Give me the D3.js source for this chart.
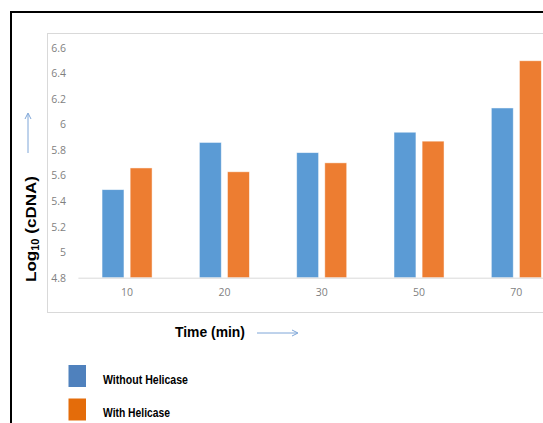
<!DOCTYPE html>
<html>
<head>
<meta charset="utf-8">
<script src="https://cdn.jsdelivr.net/npm/d3@7"></script>
<style>
  html, body { margin: 0; padding: 0; background: #fff; }
  svg { display: block; }
</style>
</head>
<body>
<svg id="chart" width="543" height="423"></svg>
<script>
const categories = ["10", "20", "30", "50", "70"];
const seriesNames = ["Without Helicase", "With Helicase"];
const withoutHelicase = [5.49, 5.86, 5.78, 5.94, 6.13];
const withHelicase = [5.66, 5.63, 5.70, 5.87, 6.50];
const yTickValues = [4.8, 5.0, 5.2, 5.4, 5.6, 5.8, 6.0, 6.2, 6.4, 6.6];
const yTickLabels = ["4.8", "5", "5.2", "5.4", "5.6", "5.8", "6", "6.2", "6.4", "6.6"];

const barColors = ["#5b9bd5", "#ed7d31"];
const legendColors = ["#4f81bd", "#e46c0a"];

const svg = d3.select("#chart");

// outer black frame (extends beyond the right edge)
svg.append("rect").attr("x", 11).attr("y", 12).attr("width", 600).attr("height", 500)
  .attr("fill", "none").attr("stroke", "#000").attr("stroke-width", 2);

// inner chart-area frame
svg.append("rect").attr("x", 47.5).attr("y", 33.5).attr("width", 600).attr("height", 279)
  .attr("fill", "none").attr("stroke", "#d9d9d9").attr("stroke-width", 1);

const x0 = d3.scaleBand().domain(categories).range([78.4, 565])
  .paddingInner(0.486).paddingOuter(0.243);
const x1 = d3.scaleBand().domain(seriesNames).range([0, x0.bandwidth()])
  .paddingInner(0.22).paddingOuter(0);
const y = d3.scaleLinear().domain([4.8, 6.6]).range([277.7, 48]);

const data = categories.map((c, i) => ({ cat: c, vals: [withoutHelicase[i], withHelicase[i]] }));

const g = svg.append("g");
const groups = g.selectAll("g.grp").data(data).join("g")
  .attr("class", "grp")
  .attr("transform", d => `translate(${x0(d.cat)},0)`);
groups.selectAll("rect").data(d => d.vals.map((v, j) => ({ s: seriesNames[j], v, j })))
  .join("rect")
  .attr("x", d => x1(d.s))
  .attr("width", x1.bandwidth())
  .attr("y", d => y(d.v))
  .attr("height", d => y(4.8) - y(d.v))
  .attr("fill", d => barColors[d.j])
  .attr("stroke", "rgba(255,255,255,0.6)")
  .attr("stroke-width", 0.8);

// baseline
svg.append("line").attr("x1", 78.4).attr("x2", 565).attr("y1", y(4.8) + 0.5).attr("y2", y(4.8) + 0.5)
  .attr("stroke", "#d9d9d9").attr("stroke-width", 1);

// y axis
const yAxis = d3.axisLeft(y).tickValues(yTickValues)
  .tickFormat((d, i) => yTickLabels[i]).tickSize(0).tickPadding(0);
const yg = svg.append("g").attr("transform", "translate(66,0)").call(yAxis);
yg.select(".domain").remove();
yg.selectAll("text").attr("fill", "#7f7f7f")
  .style("font-family", "'Liberation Sans Narrow', 'Open Sans', sans-serif")
  .style("font-size", "10.5px");

// x axis
const xAxis = d3.axisBottom(x0).tickSize(0).tickPadding(11);
const xg = svg.append("g").attr("transform", `translate(0,${y(4.8)})`).call(xAxis);
xg.select(".domain").remove();
xg.selectAll("text").attr("fill", "#7f7f7f")
  .style("font-family", "'Liberation Sans Narrow', 'Open Sans', sans-serif")
  .style("font-size", "10.5px");

// y title
svg.append("text")
  .attr("transform", "translate(35.5,229) rotate(-90)")
  .attr("text-anchor", "middle")
  .attr("textLength", 106).attr("lengthAdjust", "spacingAndGlyphs")
  .style("font-family", "'Liberation Sans', Arial, sans-serif")
  .style("font-weight", "bold").style("font-size", "15.5px").attr("fill", "#000")
  .call(t => {
    t.append("tspan").text("Log");
    t.append("tspan").attr("font-size", "10px").attr("dy", 3).text("10");
    t.append("tspan").attr("dy", -3).text(" (cDNA)");
  });

// up arrow
const arrowColor = "#7ea6d8";
svg.append("line").attr("x1", 28).attr("x2", 28).attr("y1", 153).attr("y2", 114)
  .attr("stroke", arrowColor).attr("stroke-width", 1);
svg.append("path").attr("d", "M25,119 L28,113 L31,119")
  .attr("fill", "none").attr("stroke", arrowColor).attr("stroke-width", 1);

// x title
svg.append("text").attr("x", 175).attr("y", 337)
  .attr("textLength", 70).attr("lengthAdjust", "spacingAndGlyphs")
  .style("font-family", "'Liberation Sans Narrow', 'Liberation Sans', sans-serif")
  .style("font-weight", "bold").style("font-size", "15px").attr("fill", "#000")
  .text("Time (min)");

// right arrow
svg.append("line").attr("x1", 257).attr("x2", 297).attr("y1", 333).attr("y2", 333)
  .attr("stroke", arrowColor).attr("stroke-width", 1);
svg.append("path").attr("d", "M292,330 L298,333 L292,336")
  .attr("fill", "none").attr("stroke", arrowColor).attr("stroke-width", 1);

// legend
const legend = svg.append("g");
const ly = [365, 398.5];
seriesNames.forEach((s, i) => {
  legend.append("rect").attr("x", 68.5).attr("y", ly[i]).attr("width", 17.5).attr("height", 22)
    .attr("fill", legendColors[i]);
  legend.append("text").attr("x", 103).attr("y", ly[i] + 18.5)
    .attr("textLength", i === 0 ? 85 : 67).attr("lengthAdjust", "spacingAndGlyphs")
    .style("font-family", "'Liberation Sans Narrow', 'Liberation Sans', sans-serif")
    .style("font-weight", "bold").style("font-size", "12.5px").attr("fill", "#000")
    .text(s);
});
</script>
</body>
</html>
